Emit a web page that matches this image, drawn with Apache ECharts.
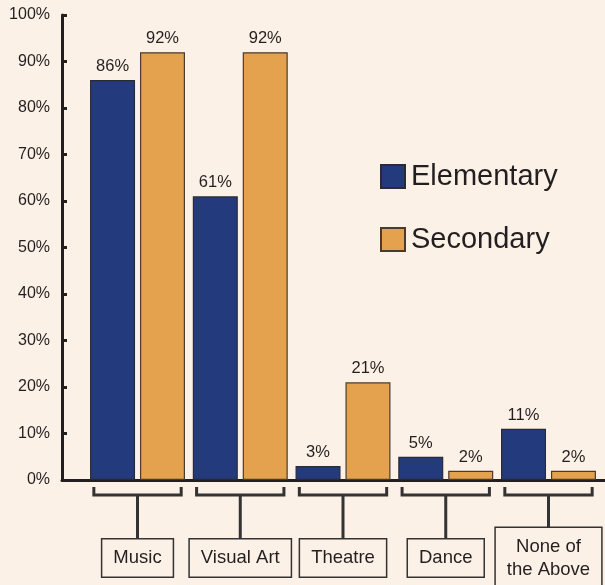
<!DOCTYPE html>
<html>
<head>
<meta charset="utf-8">
<style>
html,body{margin:0;padding:0;background:#fcf1e6;}
#c{width:605px;height:585px;}
</style>
<script src="https://cdn.jsdelivr.net/npm/echarts@6/dist/echarts.min.js"></script>
</head>
<body>
<div id="c"></div>
<script>
var categories = ['Music', 'Visual Art', 'Theatre', 'Dance', 'None of\nthe Above'];
var elementary = [86, 61, 3, 5, 11];
var secondary = [92, 92, 21, 2, 2];
var yTicks = [0, 10, 20, 30, 40, 50, 60, 70, 80, 90, 100];

var BG = '#fcf1e6';
var INK = '#231f20';
var FONT = '"Liberation Sans", Arial, sans-serif';

var chart = echarts.init(document.getElementById('c'));

function bracketItem(params, api) {
  var p = api.coord([api.value(0), 0]);
  var band = api.size([1, 0])[0];
  var half = band * 0.425;
  var cx = p[0], y0 = p[1];
  return {
    type: 'group',
    children: [
      {
        type: 'polyline',
        shape: { points: [[cx - half, y0 + 7], [cx - half, y0 + 15], [cx + half, y0 + 15], [cx + half, y0 + 7]] },
        style: { stroke: '#333', lineWidth: 3, fill: null }
      },
      {
        type: 'line',
        shape: { x1: cx, y1: y0 + 15, x2: cx, y2: y0 + 70 },
        style: { stroke: '#333', lineWidth: 3 }
      },
      {
        type: 'text',
        x: cx,
        y: y0 + 78,
        style: {
          text: categories[params.dataIndex],
          align: 'center',
          verticalAlign: 'middle',
          fill: INK,
          font: '18.5px ' + FONT,
          lineHeight: 23,
          padding: [7, 11],
          backgroundColor: BG,
          borderColor: '#333',
          borderWidth: 1.5
        }
      }
    ]
  };
}

chart.setOption({
  backgroundColor: BG,
  animation: false,
  textStyle: { fontFamily: FONT },
  grid: { left: 62, right: 0, top: 15, bottom: 105 },
  legend: {
    data: ['Elementary', 'Secondary'],
    orient: 'vertical',
    icon: 'rect',
    left: 375,
    top: 157,
    itemWidth: 24,
    itemHeight: 23,
    itemGap: 34,
    textStyle: { fontSize: 29, color: INK, fontFamily: FONT, padding: [0, 0, 0, 1] }
  },
  xAxis: {
    type: 'value',
    min: -0.735,
    max: 4.55,
    axisLine: { show: true, onZero: false, lineStyle: { color: INK, width: 3 } },
    axisTick: { show: false },
    axisLabel: { show: false },
    splitLine: { show: false }
  },
  yAxis: {
    type: 'value',
    min: 0,
    max: 100,
    interval: 10,
    axisLine: { show: true, onZero: false, lineStyle: { color: INK, width: 3 } },
    axisTick: { show: true, inside: true, length: 5, lineStyle: { color: INK, width: 3 } },
    axisLabel: { formatter: '{value}%', fontSize: 16, color: INK, margin: 12, fontFamily: FONT },
    splitLine: { show: false }
  },
  series: [
    {
      name: 'Elementary',
      type: 'bar',
      barWidth: 45,
      barGap: '11%',
      data: elementary.map(function (v, i) { return [i, v]; }),
      itemStyle: { color: '#233a7c', borderColor: '#2a2a35', borderWidth: 1.2 },
      label: { show: true, position: 'top', distance: 5, formatter: function (p) { return p.value[1] + '%'; }, fontSize: 16.5, color: INK, fontFamily: FONT }
    },
    {
      name: 'Secondary',
      type: 'bar',
      barWidth: 45,
      barGap: '11%',
      data: secondary.map(function (v, i) { return [i, v]; }),
      itemStyle: { color: '#e5a24e', borderColor: '#4a3b2e', borderWidth: 1.2 },
      label: { show: true, position: 'top', distance: 5, formatter: function (p) { return p.value[1] + '%'; }, fontSize: 16.5, color: INK, fontFamily: FONT }
    },
    {
      type: 'custom',
      name: 'brackets',
      silent: true,
      clip: false,
      z: 3,
      renderItem: bracketItem,
      data: categories.map(function (c, i) { return [i, 0]; })
    }
  ]
});
</script>
</body>
</html>
